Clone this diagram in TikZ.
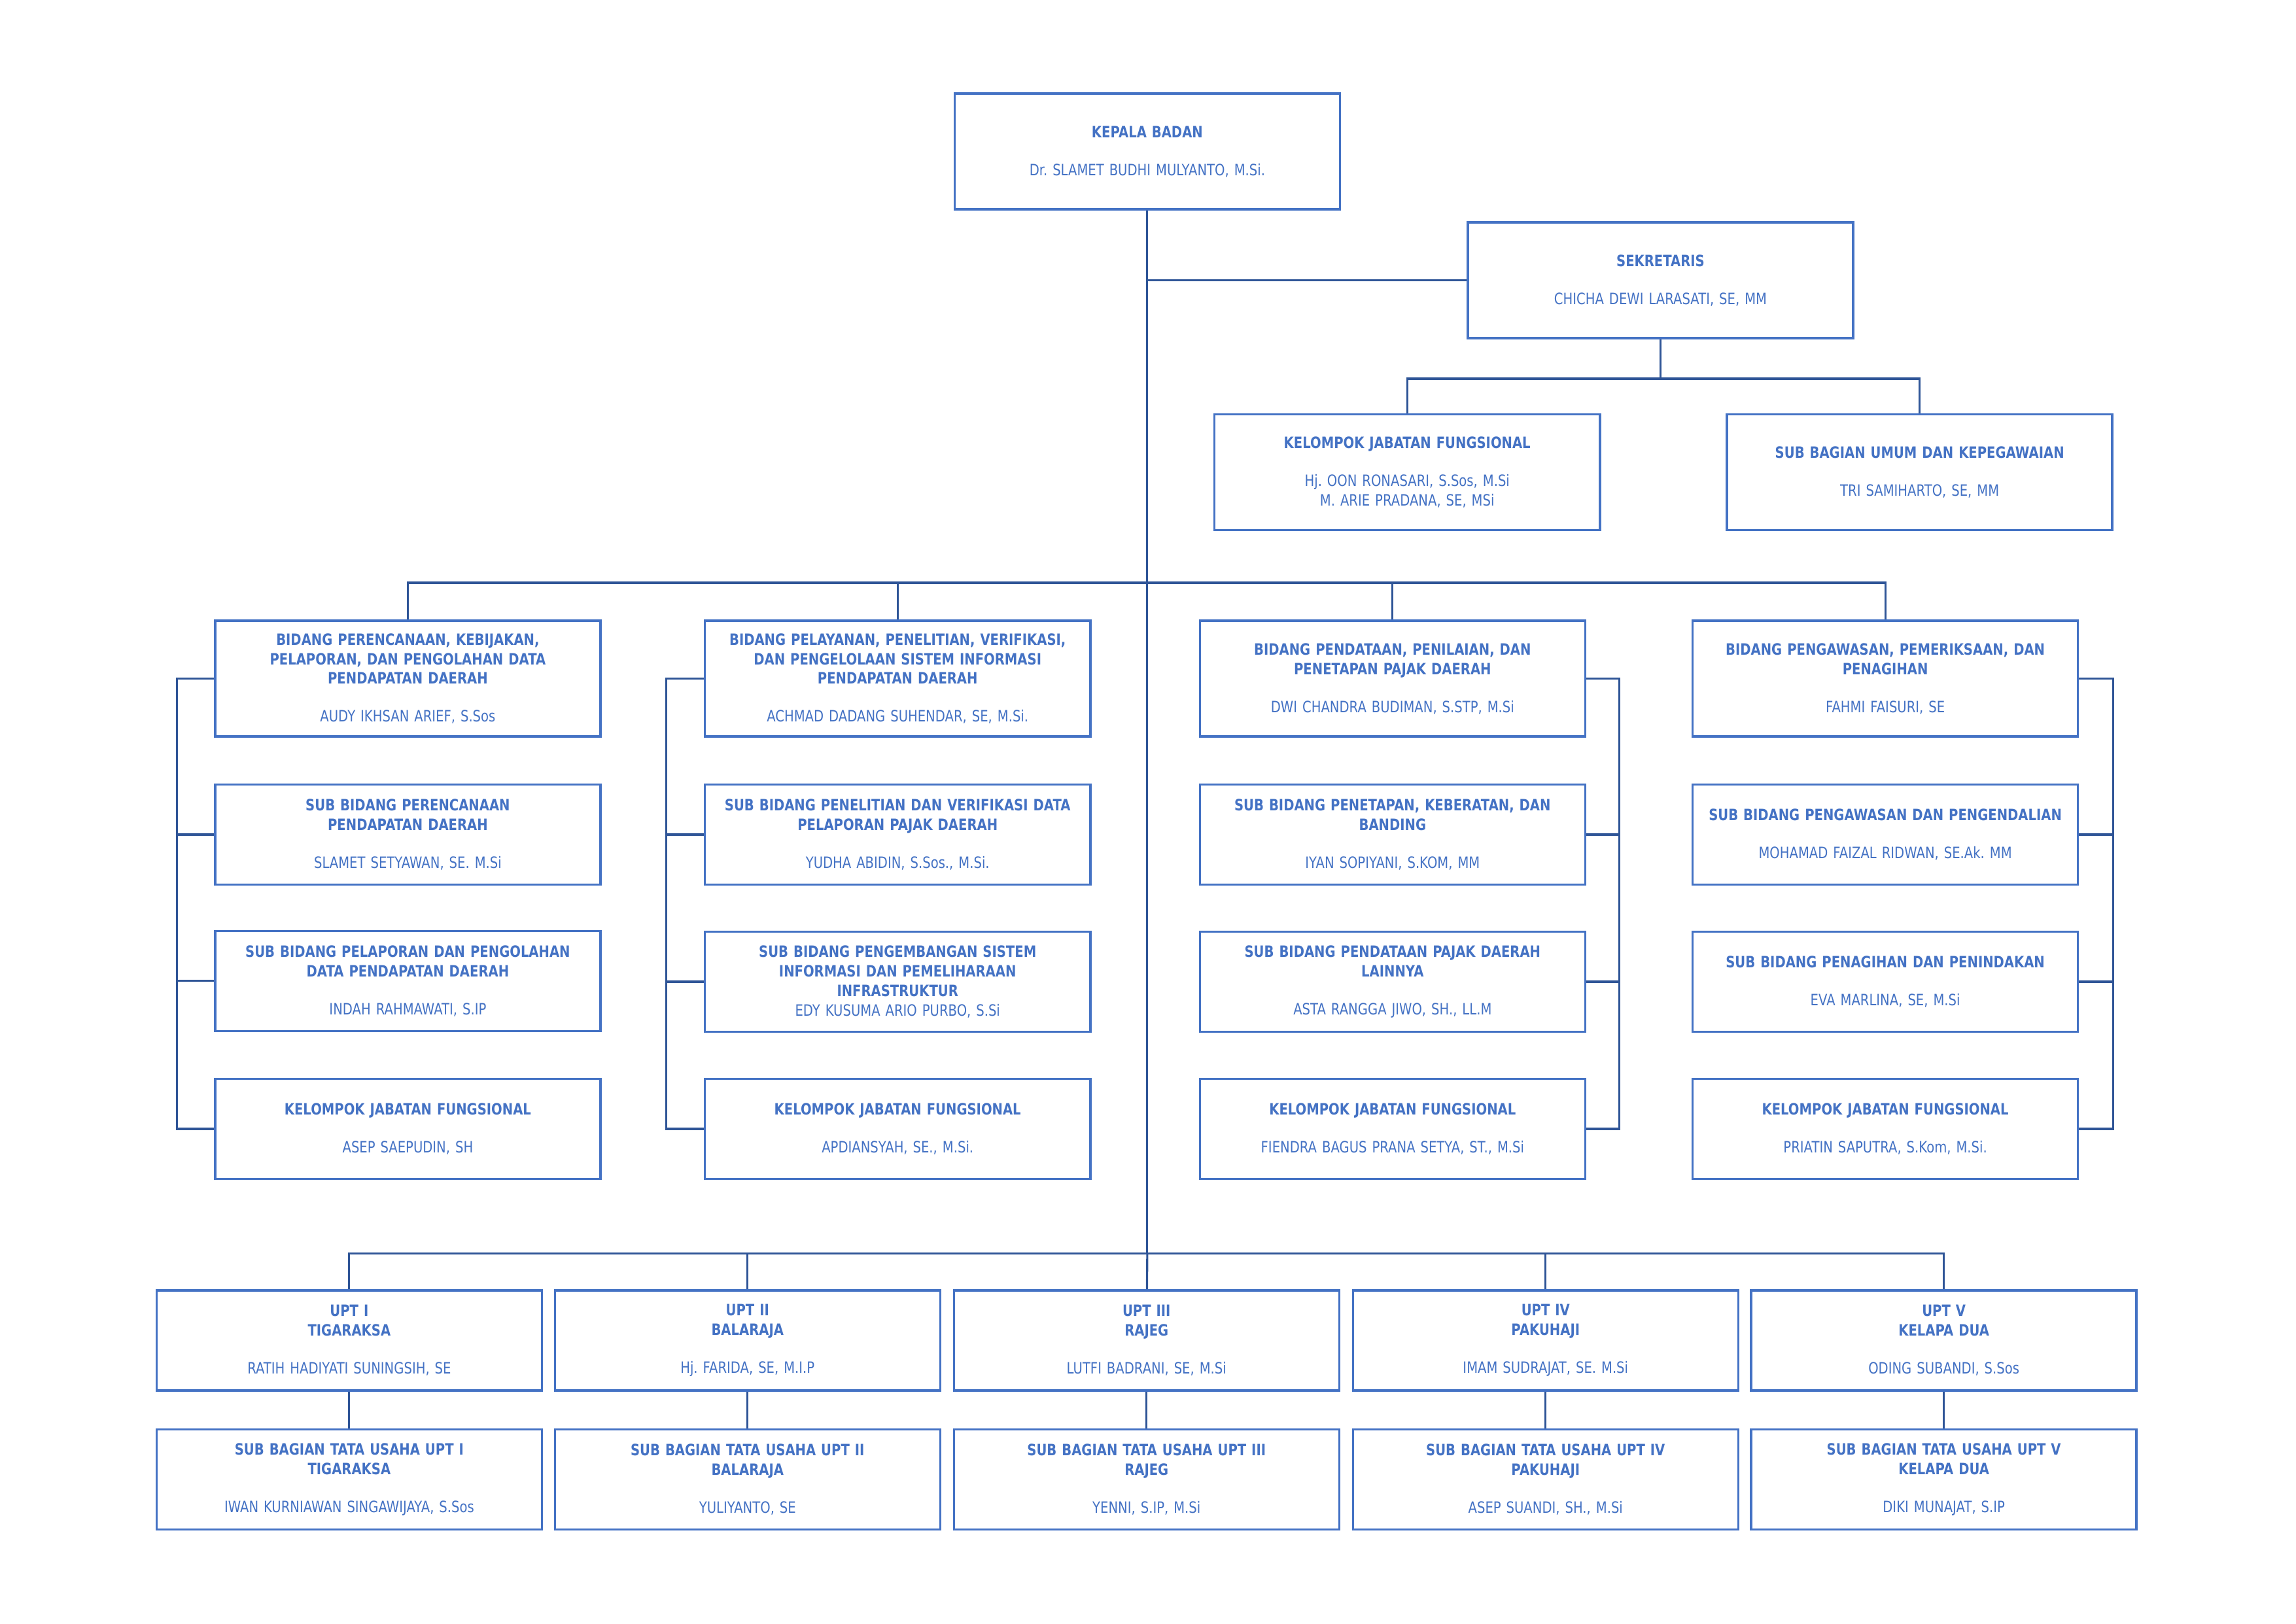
\documentclass[tikz,border=0pt]{standalone}
\usepackage{fontspec}
\setmainfont{DejaVu Sans}[FakeStretch=0.82]
\frenchspacing

\definecolor{boxblue}{HTML}{4472C4}
\definecolor{lineblue}{HTML}{2F5597}
\newcommand{\jab}[2]{\textbf{#1}\\[8pt]#2}

\begin{document}
\begin{tikzpicture}[x=0.022385cm,y=-0.022385cm,
    every node/.style={draw=boxblue,line width=1pt,fill=white,text=boxblue,
      font=\fontsize{6.8}{8.5}\selectfont,align=center,text width=5.7cm,
      minimum width=5.89cm,inner sep=0pt},
    tall/.style={minimum height=1.77cm},
    low/.style={minimum height=1.53cm},
    conn/.style={draw=lineblue,line width=0.9pt}]
		\useasboundingbox (0,0) rectangle (1568,1109);

		\node[tall] (kepala) at (783.5,103.5){\jab{KEPALA BADAN}{Dr. SLAMET BUDHI MULYANTO, M.Si.}};
		\node[tall] (sekr) at (1134,191.5){\jab{SEKRETARIS}{CHICHA DEWI LARASATI, SE, MM}};
		\node[tall] (kjf) at (961,322.5){\jab{KELOMPOK JABATAN FUNGSIONAL}{Hj. OON RONASARI, S.Sos, M.Si\\M. ARIE PRADANA, SE, MSi}};
		\node[tall] (sbu) at (1311,322.5){\jab{SUB BAGIAN UMUM DAN KEPEGAWAIAN}{TRI SAMIHARTO, SE, MM}};

		\node[tall] (b1) at (278.5,463.5){\jab{BIDANG PERENCANAAN, KEBIJAKAN,\\PELAPORAN, DAN PENGOLAHAN DATA\\PENDAPATAN DAERAH}{AUDY IKHSAN ARIEF, S.Sos}};
		\node[low] (b2) at (278.5,570){\jab{SUB BIDANG PERENCANAAN\\PENDAPATAN DAERAH}{SLAMET SETYAWAN, SE. M.Si}};
		\node[low] (b3) at (278.5,670){\jab{SUB BIDANG PELAPORAN DAN PENGOLAHAN\\DATA PENDAPATAN DAERAH}{INDAH RAHMAWATI, S.IP}};
		\node[low] (b4) at (278.5,771){\jab{KELOMPOK JABATAN FUNGSIONAL}{ASEP SAEPUDIN, SH}};

		\node[tall] (c1) at (613,463.5){\jab{BIDANG PELAYANAN, PENELITIAN, VERIFIKASI,\\DAN PENGELOLAAN SISTEM INFORMASI\\PENDAPATAN DAERAH}{ACHMAD DADANG SUHENDAR, SE, M.Si.}};
		\node[low] (c2) at (613,570){\jab{SUB BIDANG PENELITIAN DAN VERIFIKASI DATA\\PELAPORAN PAJAK DAERAH}{YUDHA ABIDIN, S.Sos., M.Si.}};
		\node[low] (c3) at (613,670.5){\textbf{SUB BIDANG PENGEMBANGAN SISTEM\\INFORMASI DAN PEMELIHARAAN\\INFRASTRUKTUR}\\EDY KUSUMA ARIO PURBO, S.Si};
		\node[low] (c4) at (613,771){\jab{KELOMPOK JABATAN FUNGSIONAL}{APDIANSYAH, SE., M.Si.}};

		\node[tall] (d1) at (951,463.5){\jab{BIDANG PENDATAAN, PENILAIAN, DAN\\PENETAPAN PAJAK DAERAH}{DWI CHANDRA BUDIMAN, S.STP, M.Si}};
		\node[low] (d2) at (951,570){\jab{SUB BIDANG PENETAPAN, KEBERATAN, DAN\\BANDING}{IYAN SOPIYANI, S.KOM, MM}};
		\node[low] (d3) at (951,670.5){\jab{SUB BIDANG PENDATAAN PAJAK DAERAH\\LAINNYA}{ASTA RANGGA JIWO, SH., LL.M}};
		\node[low] (d4) at (951,771){\jab{KELOMPOK JABATAN FUNGSIONAL}{FIENDRA BAGUS PRANA SETYA, ST., M.Si}};

		\node[tall] (e1) at (1287.5,463.5){\jab{BIDANG PENGAWASAN, PEMERIKSAAN, DAN\\PENAGIHAN}{FAHMI FAISURI, SE}};
		\node[low] (e2) at (1287.5,570){\jab{SUB BIDANG PENGAWASAN DAN PENGENDALIAN}{MOHAMAD FAIZAL RIDWAN, SE.Ak. MM}};
		\node[low] (e3) at (1287.5,670.5){\jab{SUB BIDANG PENAGIHAN DAN PENINDAKAN}{EVA MARLINA, SE, M.Si}};
		\node[low] (e4) at (1287.5,771){\jab{KELOMPOK JABATAN FUNGSIONAL}{PRIATIN SAPUTRA, S.Kom, M.Si.}};

		\node[low] (u1) at (238.5,915.5){\jab{UPT I\\TIGARAKSA}{RATIH HADIYATI SUNINGSIH, SE}};
		\node[low] (u2) at (510.5,915.5){\jab{UPT II\\BALARAJA}{Hj. FARIDA, SE, M.I.P}};
		\node[low] (u3) at (783,915.5){\jab{UPT III\\RAJEG}{LUTFI BADRANI, SE, M.Si}};
		\node[low] (u4) at (1055.5,915.5){\jab{UPT IV\\PAKUHAJI}{IMAM SUDRAJAT, SE. M.Si}};
		\node[low] (u5) at (1327.5,915.5){\jab{UPT V\\KELAPA DUA}{ODING SUBANDI, S.Sos}};

		\node[low] (s1) at (238.5,1010.5){\jab{SUB BAGIAN TATA USAHA UPT I\\TIGARAKSA}{IWAN KURNIAWAN SINGAWIJAYA, S.Sos}};
		\node[low] (s2) at (510.5,1010.5){\jab{SUB BAGIAN TATA USAHA UPT II\\BALARAJA}{YULIYANTO, SE}};
		\node[low] (s3) at (783,1010.5){\jab{SUB BAGIAN TATA USAHA UPT III\\RAJEG}{YENNI, S.IP, M.Si}};
		\node[low] (s4) at (1055.5,1010.5){\jab{SUB BAGIAN TATA USAHA UPT IV\\PAKUHAJI}{ASEP SUANDI, SH., M.Si}};
		\node[low] (s5) at (1327.5,1010.5){\jab{SUB BAGIAN TATA USAHA UPT V\\KELAPA DUA}{DIKI MUNAJAT, S.IP}};

		\coordinate (top) at (783.5,398);
		\coordinate (bot) at (783.5,856);
		\coordinate (sj) at ([yshift=-0.6cm]sekr.south);
		\coordinate (k1) at (121,0);
		\coordinate (k2) at (455,0);
		\coordinate (k3) at (1106,0);
		\coordinate (k4) at (1443,0);

		\draw[conn] (kepala) -- (bot);
		\draw[conn] (sekr) -- (sekr -| kepala);
		\draw[conn] (sekr) -- (sj);
		\draw[conn] (kjf) |- (sj) -| (sbu);

		\draw[conn] (b1) |- (top) -| (e1);
		\draw[conn] (c1) -- (c1 |- top);
		\draw[conn] (d1) -- (d1 |- top);

		\draw[conn] (b1.west) -- (b1.west -| k1) -- (b4.west -| k1) -- (b4.west);
		\draw[conn] (b2.west) -- (b2.west -| k1);
		\draw[conn] (b3.west) -- (b3.west -| k1);
		\draw[conn] (c1.west) -- (c1.west -| k2) -- (c4.west -| k2) -- (c4.west);
		\draw[conn] (c2.west) -- (c2.west -| k2);
		\draw[conn] (c3.west) -- (c3.west -| k2);
		\draw[conn] (d1.east) -- (d1.east -| k3) -- (d4.east -| k3) -- (d4.east);
		\draw[conn] (d2.east) -- (d2.east -| k3);
		\draw[conn] (d3.east) -- (d3.east -| k3);
		\draw[conn] (e1.east) -- (e1.east -| k4) -- (e4.east -| k4) -- (e4.east);
		\draw[conn] (e2.east) -- (e2.east -| k4);
		\draw[conn] (e3.east) -- (e3.east -| k4);

		\draw[conn] (u1) |- (bot) -| (u5);
		\draw[conn] (u2) -- (u2 |- bot);
		\draw[conn] (u3) -- (bot);
		\draw[conn] (u4) -- (u4 |- bot);

		\draw[conn] (u1) -- (s1);
		\draw[conn] (u2) -- (s2);
		\draw[conn] (u3) -- (s3);
		\draw[conn] (u4) -- (s4);
		\draw[conn] (u5) -- (s5);

	\end{tikzpicture}
\end{document}
